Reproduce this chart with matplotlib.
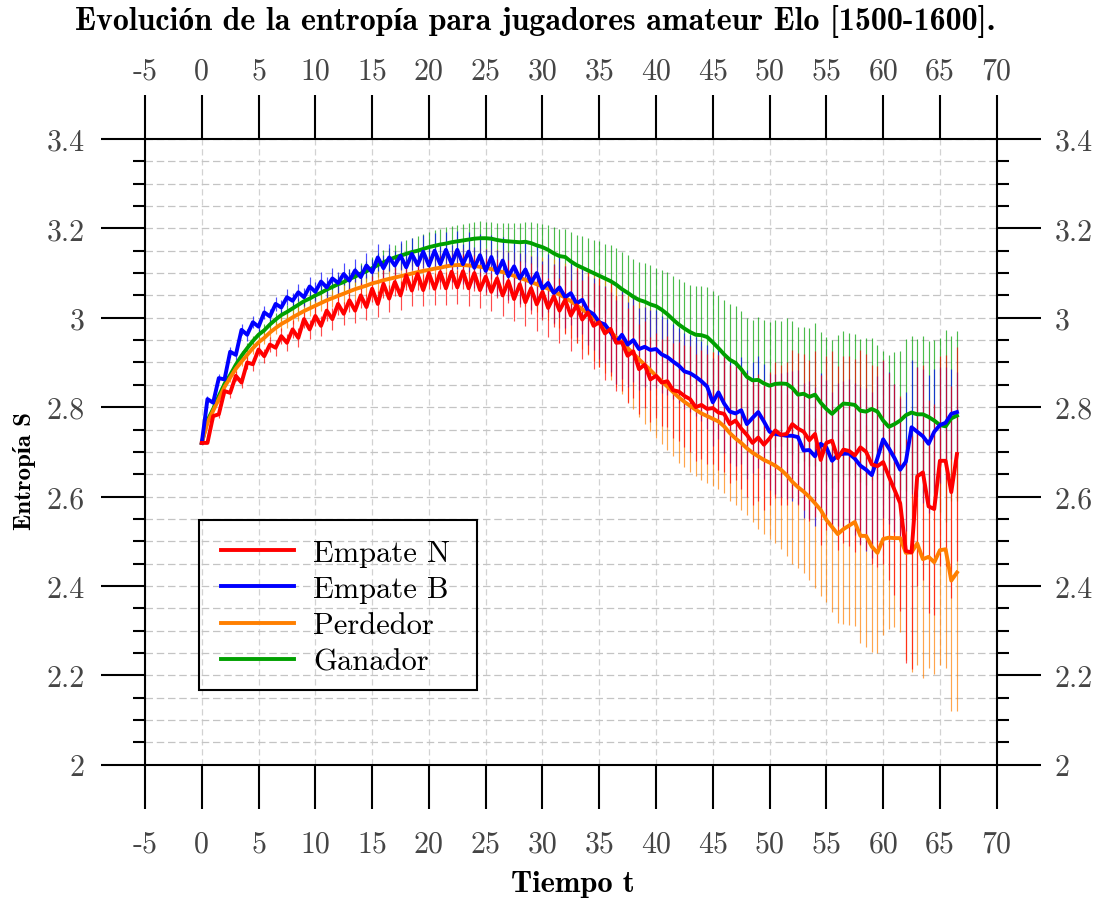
import matplotlib as mpl
mpl.use("Agg")
import matplotlib.pyplot as plt
import matplotlib.patches as mpatches
import matplotlib.transforms as mtrans
from matplotlib.ticker import MultipleLocator, FixedLocator
import numpy as np

# --- data ----------------------------------------------------------------
tiempo = np.arange(134) / 2.0   # t = 0, 0.5, ..., 66.5

empate_n = [
    2.720, 2.720, 2.780, 2.784, 2.836, 2.832, 2.870, 2.855, 2.900, 2.896,
    2.929, 2.914, 2.940, 2.933, 2.959, 2.944, 2.974, 2.955, 2.997, 2.974,
    3.004, 2.982, 3.016, 2.997, 3.031, 3.009, 3.039, 3.016, 3.050, 3.024,
    3.065, 3.031, 3.076, 3.043, 3.080, 3.050, 3.095, 3.061, 3.098, 3.062,
    3.100, 3.065, 3.102, 3.066, 3.103, 3.068, 3.104, 3.066, 3.100, 3.062,
    3.092, 3.058, 3.088, 3.050, 3.082, 3.042, 3.075, 3.035, 3.066, 3.030,
    3.058, 3.022, 3.048, 3.016, 3.040, 3.005, 3.028, 2.996, 3.012, 2.982,
    2.990, 2.965, 2.975, 2.944, 2.945, 2.915, 2.925, 2.885, 2.895, 2.862,
    2.870, 2.855, 2.858, 2.838, 2.835, 2.825, 2.818, 2.800, 2.805, 2.796,
    2.798, 2.788, 2.785, 2.762, 2.770, 2.752, 2.738, 2.720, 2.732, 2.716,
    2.730, 2.748, 2.738, 2.740, 2.762, 2.752, 2.745, 2.726, 2.740, 2.682,
    2.720, 2.725, 2.686, 2.705, 2.702, 2.692, 2.710, 2.700, 2.672, 2.668,
    2.677, 2.645, 2.615, 2.585, 2.478, 2.475, 2.645, 2.654, 2.578, 2.572,
    2.680, 2.680, 2.610, 2.695,
]
empate_b = [
    2.720, 2.818, 2.810, 2.865, 2.862, 2.924, 2.917, 2.973, 2.962, 2.990,
    2.980, 3.012, 3.003, 3.031, 3.023, 3.046, 3.038, 3.057, 3.046, 3.070,
    3.058, 3.081, 3.068, 3.088, 3.078, 3.098, 3.083, 3.106, 3.091, 3.117,
    3.102, 3.135, 3.111, 3.135, 3.117, 3.139, 3.113, 3.143, 3.118, 3.148,
    3.117, 3.150, 3.120, 3.152, 3.121, 3.152, 3.120, 3.148, 3.112, 3.140,
    3.105, 3.136, 3.100, 3.128, 3.093, 3.115, 3.088, 3.108, 3.078, 3.100,
    3.065, 3.078, 3.055, 3.068, 3.046, 3.055, 3.032, 3.040, 3.016, 3.008,
    2.990, 2.985, 2.968, 2.945, 2.962, 2.940, 2.950, 2.930, 2.935, 2.928,
    2.930, 2.918, 2.912, 2.902, 2.893, 2.880, 2.876, 2.868, 2.858, 2.846,
    2.811, 2.833, 2.808, 2.790, 2.786, 2.793, 2.762, 2.776, 2.789, 2.768,
    2.745, 2.740, 2.738, 2.736, 2.736, 2.733, 2.703, 2.704, 2.690, 2.718,
    2.710, 2.680, 2.693, 2.696, 2.696, 2.685, 2.669, 2.660, 2.648, 2.686,
    2.728, 2.708, 2.686, 2.660, 2.678, 2.755, 2.745, 2.735, 2.718, 2.745,
    2.760, 2.765, 2.785, 2.789,
]
perdedor = [
    2.720, 2.765, 2.792, 2.818, 2.845, 2.866, 2.886, 2.902, 2.917, 2.932,
    2.945, 2.955, 2.967, 2.977, 2.986, 2.993, 3.001, 3.008, 3.015, 3.021,
    3.027, 3.033, 3.039, 3.044, 3.049, 3.054, 3.059, 3.064, 3.068, 3.072,
    3.077, 3.080, 3.084, 3.087, 3.090, 3.093, 3.096, 3.099, 3.102, 3.105,
    3.107, 3.110, 3.112, 3.115, 3.117, 3.118, 3.118, 3.117, 3.116, 3.114,
    3.112, 3.109, 3.106, 3.102, 3.098, 3.094, 3.089, 3.085, 3.080, 3.075,
    3.070, 3.065, 3.059, 3.052, 3.045, 3.037, 3.028, 3.019, 3.010, 3.000,
    2.990, 2.980, 2.968, 2.956, 2.945, 2.932, 2.920, 2.907, 2.895, 2.883,
    2.870, 2.858, 2.846, 2.834, 2.822, 2.812, 2.803, 2.794, 2.786, 2.780,
    2.774, 2.768, 2.757, 2.742, 2.730, 2.720, 2.708, 2.698, 2.690, 2.682,
    2.676, 2.669, 2.660, 2.648, 2.633, 2.621, 2.611, 2.599, 2.585, 2.570,
    2.548, 2.532, 2.516, 2.527, 2.535, 2.543, 2.512, 2.512, 2.488, 2.474,
    2.505, 2.508, 2.507, 2.507, 2.474, 2.475, 2.495, 2.460, 2.465, 2.453,
    2.480, 2.482, 2.412, 2.430,
]
ganador = [
    2.720, 2.770, 2.796, 2.825, 2.852, 2.872, 2.895, 2.915, 2.932, 2.948,
    2.962, 2.972, 2.985, 2.996, 3.006, 3.013, 3.021, 3.029, 3.037, 3.043,
    3.050, 3.056, 3.063, 3.069, 3.075, 3.080, 3.087, 3.092, 3.099, 3.104,
    3.111, 3.118, 3.124, 3.130, 3.135, 3.139, 3.143, 3.147, 3.150, 3.154,
    3.158, 3.161, 3.164, 3.166, 3.169, 3.171, 3.173, 3.175, 3.177, 3.178,
    3.178, 3.177, 3.174, 3.172, 3.171, 3.170, 3.169, 3.170, 3.167, 3.162,
    3.158, 3.152, 3.144, 3.138, 3.136, 3.126, 3.118, 3.112, 3.106, 3.100,
    3.094, 3.088, 3.082, 3.074, 3.064, 3.056, 3.047, 3.040, 3.036, 3.030,
    3.026, 3.018, 3.008, 2.996, 2.985, 2.976, 2.968, 2.962, 2.961, 2.957,
    2.945, 2.932, 2.918, 2.906, 2.899, 2.885, 2.868, 2.860, 2.861, 2.853,
    2.848, 2.852, 2.853, 2.852, 2.843, 2.828, 2.830, 2.823, 2.828, 2.810,
    2.796, 2.785, 2.797, 2.808, 2.807, 2.805, 2.792, 2.790, 2.796, 2.790,
    2.770, 2.756, 2.762, 2.770, 2.782, 2.788, 2.784, 2.784, 2.778, 2.770,
    2.760, 2.757, 2.775, 2.781,
]

err_empate_n = [
    0.000, 0.000, 0.008, 0.009, 0.010, 0.011, 0.012, 0.013, 0.014, 0.015,
    0.015, 0.016, 0.017, 0.018, 0.018, 0.019, 0.020, 0.021, 0.021, 0.022,
    0.023, 0.023, 0.024, 0.025, 0.025, 0.026, 0.027, 0.027, 0.028, 0.029,
    0.029, 0.030, 0.031, 0.031, 0.032, 0.033, 0.033, 0.034, 0.035, 0.035,
    0.036, 0.036, 0.037, 0.037, 0.038, 0.038, 0.039, 0.040, 0.040, 0.041,
    0.042, 0.043, 0.044, 0.046, 0.048, 0.050, 0.052, 0.054, 0.057, 0.060,
    0.063, 0.066, 0.069, 0.072, 0.076, 0.080, 0.084, 0.088, 0.092, 0.096,
    0.100, 0.104, 0.106, 0.108, 0.108, 0.106, 0.104, 0.100, 0.098, 0.096,
    0.095, 0.098, 0.102, 0.106, 0.110, 0.114, 0.118, 0.120, 0.122, 0.124,
    0.126, 0.128, 0.130, 0.132, 0.134, 0.136, 0.138, 0.140, 0.142, 0.145,
    0.148, 0.152, 0.156, 0.160, 0.165, 0.170, 0.175, 0.180, 0.185, 0.190,
    0.195, 0.200, 0.205, 0.210, 0.212, 0.215, 0.218, 0.220, 0.222, 0.225,
    0.228, 0.232, 0.236, 0.240, 0.250, 0.260, 0.245, 0.240, 0.238, 0.236,
    0.235, 0.236, 0.238, 0.240,
]
err_empate_b = [
    0.000, 0.008, 0.008, 0.009, 0.010, 0.011, 0.012, 0.012, 0.013, 0.014,
    0.014, 0.015, 0.016, 0.016, 0.017, 0.018, 0.018, 0.019, 0.020, 0.021,
    0.021, 0.022, 0.023, 0.023, 0.024, 0.025, 0.026, 0.026, 0.027, 0.028,
    0.029, 0.030, 0.030, 0.031, 0.032, 0.033, 0.034, 0.035, 0.036, 0.037,
    0.038, 0.039, 0.040, 0.041, 0.042, 0.043, 0.044, 0.045, 0.046, 0.047,
    0.048, 0.050, 0.051, 0.053, 0.054, 0.056, 0.057, 0.059, 0.060, 0.062,
    0.063, 0.065, 0.066, 0.068, 0.070, 0.072, 0.074, 0.076, 0.078, 0.080,
    0.083, 0.086, 0.090, 0.094, 0.098, 0.096, 0.094, 0.092, 0.090, 0.090,
    0.088, 0.086, 0.085, 0.084, 0.084, 0.085, 0.086, 0.088, 0.090, 0.094,
    0.098, 0.104, 0.110, 0.114, 0.118, 0.120, 0.122, 0.124, 0.126, 0.128,
    0.130, 0.134, 0.138, 0.142, 0.146, 0.150, 0.152, 0.154, 0.156, 0.158,
    0.150, 0.155, 0.160, 0.163, 0.166, 0.170, 0.176, 0.182, 0.186, 0.184,
    0.175, 0.170, 0.165, 0.160, 0.155, 0.150, 0.145, 0.150, 0.155, 0.140,
    0.130, 0.125, 0.100, 0.090,
]
err_perdedor = [
    0.000, 0.004, 0.006, 0.007, 0.008, 0.009, 0.010, 0.010, 0.011, 0.012,
    0.012, 0.013, 0.013, 0.014, 0.015, 0.015, 0.016, 0.016, 0.017, 0.017,
    0.018, 0.018, 0.019, 0.019, 0.020, 0.021, 0.021, 0.022, 0.022, 0.023,
    0.024, 0.024, 0.025, 0.025, 0.026, 0.027, 0.028, 0.028, 0.029, 0.030,
    0.031, 0.032, 0.033, 0.034, 0.035, 0.036, 0.037, 0.038, 0.040, 0.041,
    0.043, 0.045, 0.047, 0.049, 0.051, 0.053, 0.055, 0.058, 0.060, 0.063,
    0.066, 0.069, 0.072, 0.075, 0.078, 0.082, 0.085, 0.089, 0.093, 0.097,
    0.100, 0.104, 0.108, 0.112, 0.116, 0.120, 0.124, 0.128, 0.132, 0.136,
    0.138, 0.140, 0.142, 0.144, 0.146, 0.147, 0.148, 0.149, 0.150, 0.150,
    0.150, 0.151, 0.150, 0.152, 0.150, 0.149, 0.150, 0.156, 0.162, 0.166,
    0.170, 0.174, 0.178, 0.182, 0.184, 0.180, 0.182, 0.185, 0.190, 0.192,
    0.185, 0.190, 0.200, 0.212, 0.222, 0.232, 0.240, 0.248, 0.236, 0.225,
    0.215, 0.205, 0.200, 0.210, 0.240, 0.268, 0.272, 0.265, 0.248, 0.250,
    0.258, 0.265, 0.292, 0.310,
]
err_ganador = [
    0.000, 0.004, 0.006, 0.007, 0.008, 0.009, 0.010, 0.010, 0.011, 0.012,
    0.012, 0.013, 0.013, 0.014, 0.014, 0.015, 0.015, 0.016, 0.016, 0.017,
    0.017, 0.018, 0.019, 0.019, 0.020, 0.021, 0.022, 0.022, 0.023, 0.024,
    0.025, 0.026, 0.027, 0.027, 0.028, 0.029, 0.030, 0.031, 0.032, 0.033,
    0.034, 0.035, 0.035, 0.036, 0.036, 0.037, 0.037, 0.038, 0.038, 0.038,
    0.036, 0.038, 0.039, 0.040, 0.042, 0.043, 0.044, 0.045, 0.047, 0.049,
    0.052, 0.055, 0.058, 0.061, 0.062, 0.065, 0.067, 0.070, 0.072, 0.075,
    0.077, 0.078, 0.080, 0.082, 0.083, 0.084, 0.085, 0.085, 0.086, 0.088,
    0.086, 0.090, 0.095, 0.098, 0.102, 0.104, 0.106, 0.108, 0.110, 0.112,
    0.115, 0.118, 0.121, 0.124, 0.128, 0.130, 0.132, 0.136, 0.140, 0.142,
    0.143, 0.142, 0.140, 0.148, 0.150, 0.152, 0.150, 0.155, 0.160, 0.158,
    0.162, 0.166, 0.164, 0.162, 0.160, 0.158, 0.160, 0.165, 0.158, 0.150,
    0.155, 0.160, 0.162, 0.156, 0.170, 0.172, 0.168, 0.175, 0.170, 0.180,
    0.195, 0.215, 0.185, 0.190,
]

series_names = ["Empate N", "Empate B", "Perdedor", "Ganador"]
series_vals = [empate_n, empate_b, perdedor, ganador]
series_errs = [err_empate_n, err_empate_b, err_perdedor, err_ganador]
series_colors = ["#ff0000", "#0000ff", "#ff7f00", "#00a000"]

x_ticks = [-5, 0, 5, 10, 15, 20, 25, 30, 35, 40, 45, 50, 55, 60, 65, 70]
y_ticks = [2.0, 2.2, 2.4, 2.6, 2.8, 3.0, 3.2, 3.4]

# --- style ---------------------------------------------------------------
rm = ["cmr10", "DejaVu Serif"]
bf = ["cmb10", "Liberation Serif"]
tick_grey = "#454545"

fig = plt.figure(figsize=(11.01, 9.04), dpi=100)
ax = fig.add_axes([145 / 1101, 1 - 765.7 / 904, (996.7 - 145) / 1101, (765.7 - 140) / 904])

# error bars first (last series at the bottom), then the lines
for k in range(3, -1, -1):
    ax.errorbar(tiempo, series_vals[k], yerr=series_errs[k], fmt="none",
                ecolor=series_colors[k], elinewidth=0.85, alpha=0.7,
                capsize=0, zorder=2)
handles = {}
for k in range(3, -1, -1):
    handles[k], = ax.plot(tiempo, series_vals[k], color=series_colors[k],
                          lw=2.8, label=series_names[k], zorder=3)

ax.set_xlim(-5, 70)
ax.set_ylim(2.0, 3.4)
ax.xaxis.set_major_locator(FixedLocator(x_ticks))
ax.yaxis.set_major_locator(FixedLocator(y_ticks))
ax.yaxis.set_minor_locator(MultipleLocator(0.05))
ax.set_xticklabels([f"{v:g}" for v in x_ticks])
ax.set_yticklabels([f"{v:g}" for v in y_ticks])

ax.tick_params(which="major", direction="out", length=32, width=1.5,
               top=True, right=True, labeltop=True, labelright=True,
               labelsize=21.5, labelcolor=tick_grey)
ax.tick_params(axis="x", which="major", pad=15)
ax.tick_params(axis="y", which="major", pad=11.5)
ax.tick_params(which="minor", axis="y", direction="out", length=8.5,
               width=1.5, left=True, right=True)
for lab in ax.get_xticklabels() + ax.get_yticklabels():
    lab.set_family(rm)
# top labels sit closer to their ticks than the bottom ones
shift = mtrans.ScaledTranslation(0, -8 / 72, fig.dpi_scale_trans)
for tk in ax.xaxis.get_major_ticks():
    tk.label2.set_transform(tk.label2.get_transform() + shift)
    tk.label2.set_family(rm)
# right labels sit a bit closer too
shift_r = mtrans.ScaledTranslation(-2 / 72, 0, fig.dpi_scale_trans)
for tk in ax.yaxis.get_major_ticks():
    tk.label2.set_transform(tk.label2.get_transform() + shift_r)
    tk.label2.set_family(rm)
for s in ax.spines.values():
    s.set_linewidth(1.5)

ax.set_axisbelow(True)
ax.grid(which="major", axis="x", color="#d2d2d2", lw=0.9, ls=(0, (5, 3)))
ax.grid(which="both", axis="y", color="#c4c4c4", lw=0.9, ls=(0, (6, 3)))

# legend: entries without frame, plus a hand-placed transparent box
leg = ax.legend([handles[k] for k in range(4)], series_names,
                loc="upper left", bbox_to_anchor=(0.0889, 0.3602),
                borderaxespad=0, borderpad=0, frameon=False,
                prop={"family": rm, "size": 22},
                handlelength=2.4, handletextpad=0.63, labelspacing=0.29)
for txt in leg.get_texts():
    txt.set_color("black")
ax.add_patch(mpatches.Rectangle((0.0638, 0.1199), 0.3257, 0.2717,
                                transform=ax.transAxes, fill=False,
                                edgecolor="black", lw=1.5, zorder=5))

fig.text(0.486, 0.9757,
         "Evolución de la entropía para jugadores amateur Elo [1500-1600].",
         ha="center", va="center", fontsize=23, family=bf, weight="bold")
fig.text(0.5204, 0.0221, "Tiempo t", ha="center", va="center",
         fontsize=22, family=bf, weight="bold")
fig.text(0.0227, 0.479, "Entropía S", ha="center", va="center",
         rotation=90, fontsize=18, family=bf, weight="bold")

fig.savefig("out.png", dpi=100)
